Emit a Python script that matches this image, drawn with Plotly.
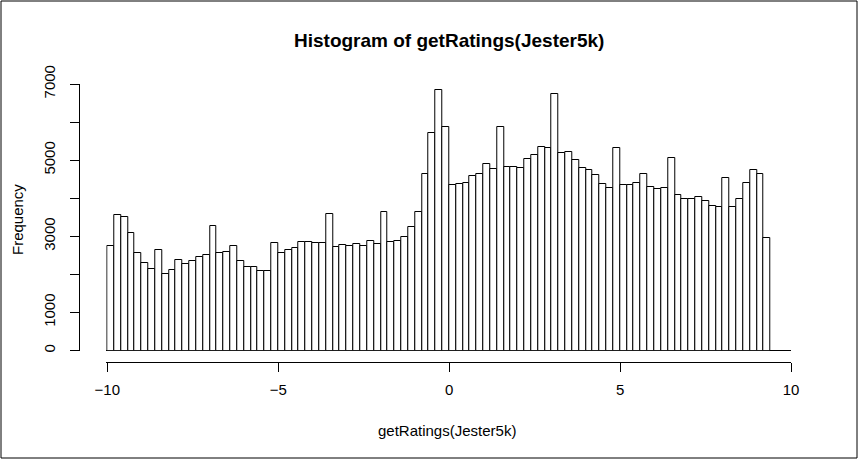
"""Histogram of getRatings(Jester5k), R base-graphics look, in Plotly."""

import numpy as np
import plotly.graph_objects as go

# bins of width 0.2 from -10 to 10 (R breaks)
bin_start = -10.0
bin_width = 0.2
counts = [
    2745, 3551, 3507, 3078, 2552, 2290, 2132, 2631, 2001, 2106,
    2369, 2264, 2343, 2448, 2500, 3262, 2552, 2579, 2737, 2343,
    2185, 2185, 2080, 2080, 2816, 2552, 2631, 2684, 2842, 2842,
    2816, 2816, 3577, 2710, 2763, 2737, 2789, 2737, 2868, 2789,
    3630, 2842, 2868, 2973, 3236, 3630, 4628, 5705, 6835, 5863,
    4339, 4366, 4392, 4576, 4628, 4891, 4760, 5863, 4812, 4812,
    4786, 5022, 5127, 5337, 5311, 6730, 5180, 5206, 4996, 4786,
    4733, 4602, 4366, 4261, 5311, 4339, 4339, 4392, 4628, 4287,
    4234, 4261, 5048, 4077, 3972, 3972, 4024, 3919, 3788, 3762,
    4523, 3762, 3972, 4392, 4733, 4628, 2947, 0, 0, 0,
]
x_ticks = [-10, -5, 0, 5, 10]
y_ticks = [0, 1000, 2000, 3000, 4000, 5000, 6000, 7000]
y_labels = ["0", "1000", "", "3000", "", "5000", "", "7000"]

title = "Histogram of getRatings(Jester5k)"
x_title = "getRatings(Jester5k)"
y_title = "Frequency"

W, H = 860, 460
FONT = "Liberation Sans, Arial, sans-serif"

centers = bin_start + bin_width * (np.arange(len(counts)) + 0.5)

fig = go.Figure(
    go.Bar(
        x=centers,
        y=counts,
        width=bin_width,
        marker=dict(color="white", line=dict(color="black", width=1)),
        hoverinfo="x+y",
    )
)

# plot region in pixels (R style: axes pulled away from the data region)
px_per_unit = (791.0 - 107.3) / 20
x_lo = -10.03  # a hair of room so the first bar's left edge isn't clipped
px_left = 107.3 + (x_lo + 10) * px_per_unit
px_right = 791.0
px_top, px_bottom = 84.0, 350.5
x_axis_y = 361.7
y_axis_x = 79.3

fig.update_layout(
    template="none",
    width=W,
    height=H,
    margin=dict(l=0, r=0, t=0, b=0, pad=0),
    paper_bgcolor="white",
    plot_bgcolor="white",
    showlegend=False,
    bargap=0,
    font=dict(family=FONT, size=15, color="black"),
    xaxis=dict(
        domain=[px_left / W, px_right / W],
        range=[x_lo, 10],
        anchor="free",
        position=1 - x_axis_y / H,
        automargin=False,
        showline=True,
        linecolor="black",
        linewidth=1,
        ticks="outside",
        ticklen=9,
        tickwidth=1,
        tickcolor="black",
        tickvals=x_ticks,
        ticklabelstandoff=5,
        showgrid=False,
        zeroline=False,
        tickfont=dict(size=15),
    ),
    yaxis=dict(
        domain=[1 - px_bottom / H, 1 - px_top / H],
        range=[0, 7000],
        anchor="free",
        position=y_axis_x / W,
        automargin=False,
        showline=True,
        linecolor="black",
        linewidth=1,
        ticks="outside",
        ticklen=9,
        tickwidth=1,
        tickcolor="black",
        tickvals=y_ticks,
        ticktext=y_labels,
        tickangle=-90,
        ticklabelstandoff=9,
        showgrid=False,
        zeroline=True,
        zerolinecolor="black",
        zerolinewidth=1,
        tickfont=dict(size=15),
    ),
    annotations=[
        dict(text="<b>" + title + "</b>", x=449 / W, y=1 - 40.5 / H,
             xref="paper", yref="paper", showarrow=False,
             font=dict(size=19), xanchor="center", yanchor="middle"),
        dict(text=x_title, x=447 / W, y=1 - 430 / H,
             xref="paper", yref="paper", showarrow=False,
             xanchor="center", yanchor="middle"),
        dict(text=y_title, x=17 / W, y=1 - 220 / H,
             xref="paper", yref="paper", showarrow=False, textangle=-90,
             xanchor="center", yanchor="middle"),
    ],
    shapes=[
        dict(type="rect", xref="paper", yref="paper",
             x0=1 / W, x1=857 / W, y0=1 - 458 / H, y1=1 - 1 / H,
             line=dict(color="black", width=1)),
    ],
)

# drop the page's default body margin so the figure sits at the window origin
fig.write_html(
    "out.html",
    config={"displayModeBar": False},
    post_script="document.body.style.margin='0px';",
)
